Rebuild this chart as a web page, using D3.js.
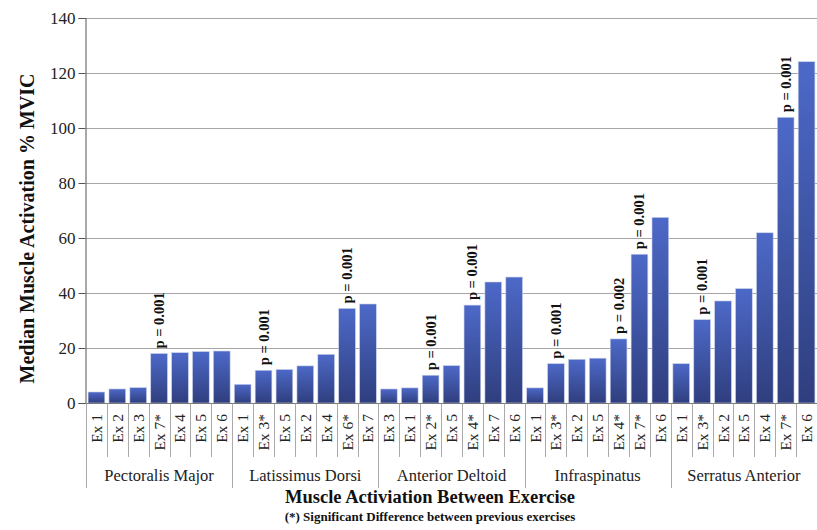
<!DOCTYPE html>
<html>
<head>
<meta charset="utf-8">
<script src="https://cdn.jsdelivr.net/npm/d3@7"></script>
<style>
  html, body { margin: 0; padding: 0; background: #fff; }
  svg { display: block; }
  svg text { font-family: "Liberation Serif", "Times New Roman", serif !important; }
</style>
</head>
<body>
<svg id="chart" width="817" height="530"></svg>
<script>
// Muscle groups, in drawing order
const muscles = ["Pectoralis Major", "Latissimus Dorsi", "Anterior Deltoid", "Infraspinatus", "Serratus Anterior"];

// Exercise labels within each muscle group (sorted by activation)
const exercises = [
  ["Ex 1", "Ex 2", "Ex 3", "Ex 7*", "Ex 4", "Ex 5", "Ex 6"],
  ["Ex 1", "Ex 3*", "Ex 5", "Ex 2", "Ex 4", "Ex 6*", "Ex 7"],
  ["Ex 3", "Ex 1", "Ex 2*", "Ex 5", "Ex 4*", "Ex 7", "Ex 6"],
  ["Ex 1", "Ex 3*", "Ex 2", "Ex 5", "Ex 4*", "Ex 7*", "Ex 6"],
  ["Ex 1", "Ex 3*", "Ex 2", "Ex 5", "Ex 4", "Ex 7*", "Ex 6"]
];

// Median activation (% MVIC)
const activation = [
  [4.0, 5.1, 5.6, 18.0, 18.3, 18.7, 18.9],
  [6.8, 11.9, 12.2, 13.5, 17.7, 34.4, 36.0],
  [5.1, 5.5, 10.1, 13.6, 35.6, 44.0, 45.8],
  [5.5, 14.3, 15.9, 16.3, 23.3, 54.1, 67.5],
  [14.3, 30.3, 37.1, 41.6, 61.9, 103.9, 124.1]
];

// Significance annotations (null = none)
const pValues = [
  [null, null, null, "p = 0.001", null, null, null],
  [null, "p = 0.001", null, null, null, "p = 0.001", null],
  [null, null, "p = 0.001", null, "p = 0.001", null, null],
  [null, "p = 0.001", null, null, "p = 0.002", "p = 0.001", null],
  [null, "p = 0.001", null, null, null, "p = 0.001", null]
];

const yTicks = [0, 20, 40, 60, 80, 100, 120, 140];

// Flatten into one row per bar
const rows = [];
muscles.forEach((m, gi) => {
  exercises[gi].forEach((ex, i) => {
    rows.push({ key: gi + "-" + i, group: gi, label: ex, value: activation[gi][i], p: pValues[gi][i] });
  });
});

const svg = d3.select("#chart");
const margin = { left: 86, right: 0, top: 18, bottom: 127 };
const W = 817, H = 530;
const plotW = W - margin.left - margin.right;
const plotH = H - margin.top - margin.bottom;

const x = d3.scaleBand().domain(rows.map(r => r.key)).range([margin.left, margin.left + plotW]).paddingInner(0.2).paddingOuter(0.1);
const y = d3.scaleLinear().domain([0, 140]).range([margin.top + plotH, margin.top]);

// Bar gradient
const defs = svg.append("defs");
const grad = defs.append("linearGradient").attr("id", "barGrad").attr("x1", 0).attr("y1", 0).attr("x2", 0).attr("y2", 1);
grad.append("stop").attr("offset", "0%").attr("stop-color", "#4d69c8");
grad.append("stop").attr("offset", "100%").attr("stop-color", "#2f3e7e");

// Horizontal gridlines
svg.append("g")
  .selectAll("line")
  .data(yTicks.filter(t => t > 0))
  .join("line")
  .attr("x1", margin.left).attr("x2", W)
  .attr("y1", d => Math.round(y(d)) + 0.5).attr("y2", d => Math.round(y(d)) + 0.5)
  .attr("stroke", "#a6a6a6").attr("stroke-width", 1);

// Y axis
const yAxis = d3.axisLeft(y).tickValues(yTicks).tickSize(7).tickPadding(3);
const yg = svg.append("g").attr("transform", `translate(${margin.left - 0.5},0)`).call(yAxis);
yg.select(".domain").attr("stroke", "#555");
yg.selectAll(".tick line").attr("stroke", "#555");
yg.selectAll(".tick text").attr("font-size", 17).attr("fill", "#222");

// Bars
svg.append("g")
  .selectAll("rect")
  .data(rows)
  .join("rect")
  .attr("x", d => x(d.key))
  .attr("width", x.bandwidth())
  .attr("y", d => y(d.value))
  .attr("height", d => y(0) - y(d.value))
  .attr("fill", "url(#barGrad)")
  .attr("stroke", "#c9d1ea").attr("stroke-width", 0.6);

// Significance labels above bars
svg.append("g")
  .selectAll("text")
  .data(rows.filter(r => r.p))
  .join("text")
  .attr("transform", d => `translate(${x(d.key) + x.bandwidth() / 2 + 5},${y(d.value) - 5}) rotate(-90)`)
  .attr("text-anchor", "start")
  .attr("font-size", 14.5).attr("font-weight", "bold").attr("fill", "#111")
  .text(d => d.p);

// X baseline
const y0 = Math.round(y(0)) + 0.5;
svg.append("line").attr("x1", margin.left - 0.5).attr("x2", W).attr("y1", y0).attr("y2", y0).attr("stroke", "#777");

// Category separators
const step = x.step();
const start = margin.left;
const sepG = svg.append("g").attr("stroke", "#aaa").attr("stroke-width", 1);
for (let i = 0; i <= rows.length; i++) {
  const xs = Math.round(start + i * step) + 0.5;
  const isGroup = i % 7 === 0;
  sepG.append("line").attr("x1", xs).attr("x2", xs).attr("y1", y0).attr("y2", isGroup ? 488 : 457);
}

// Exercise labels (rotated)
svg.append("g")
  .selectAll("text")
  .data(rows)
  .join("text")
  .attr("transform", d => `translate(${x(d.key) + x.bandwidth() / 2 + 5.5},414) rotate(-90)`)
  .attr("text-anchor", "end")
  .attr("font-size", 15.5).attr("fill", "#222")
  .text(d => d.label);

// Muscle group labels
svg.append("g")
  .selectAll("text")
  .data(muscles)
  .join("text")
  .attr("x", (d, i) => start + (i * 7 + 3.5) * step)
  .attr("y", 481)
  .attr("text-anchor", "middle")
  .attr("font-size", 16.5).attr("fill", "#222")
  .text(d => d);

// Axis titles
svg.append("text")
  .attr("x", 430).attr("y", 503)
  .attr("text-anchor", "middle")
  .attr("font-size", 18.5).attr("font-weight", "bold").attr("fill", "#111")
  .text("Muscle Activiation Between Exercise");

svg.append("text")
  .attr("x", 430).attr("y", 521)
  .attr("text-anchor", "middle")
  .attr("font-size", 13).attr("font-weight", "bold").attr("fill", "#111")
  .text("(*) Significant Difference between previous exercises");

svg.append("text")
  .attr("transform", `translate(34,${(margin.top + y(0)) / 2 + 18}) rotate(-90)`)
  .attr("text-anchor", "middle")
  .attr("font-size", 20).attr("font-weight", "bold").attr("fill", "#111")
  .text("Median Muscle Activation % MVIC");
</script>
</body>
</html>
